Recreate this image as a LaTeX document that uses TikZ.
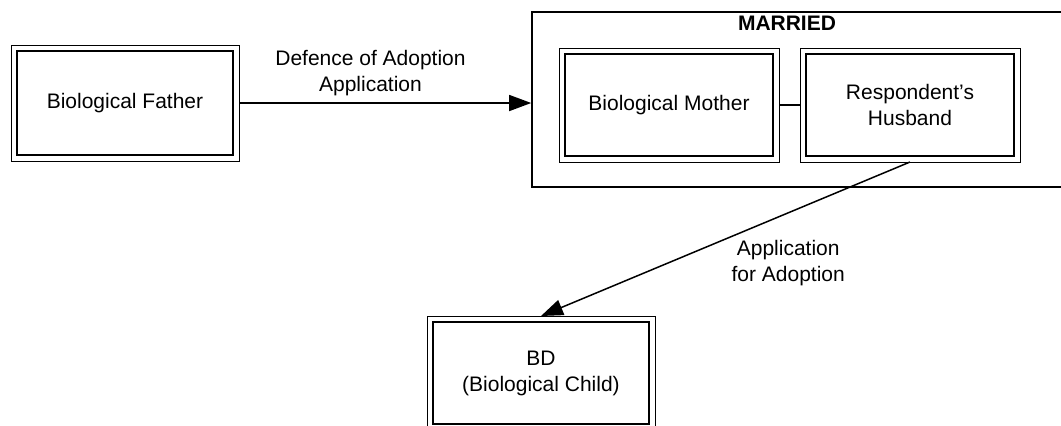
\documentclass[tikz,border=0pt]{standalone}
\usepackage{fontspec}
\setmainfont{Liberation Sans}
\usetikzlibrary{arrows.meta}

\begin{document}
\begin{tikzpicture}[
  x=0.5pt, y=-0.5pt,
  person/.style={rectangle, draw, line width=1pt, minimum width=108pt, align=center, outer sep=3pt},
  frame/.style={line width=0.5pt},
  link/.style={-{Triangle[length=11pt,width=8pt]}, line width=0.75pt},
  font=\fontsize{10.5}{13}\selectfont
]
\useasboundingbox (0,0) rectangle (1061,425);

% couple
\node[rectangle, draw, line width=0.8pt, minimum width=266pt, minimum height=87.5pt] (married) at (798,99.5) {};
\node[font=\fontsize{10.5}{13}\selectfont\bfseries] (married_label) at (787,23) {MARRIED};

\node[person, minimum height=52pt] (father) at (125,103) {Biological Father};
\node[person, minimum width=104pt, minimum height=51pt] (mother) at (669,105) {Biological Mother};
\node[person, minimum width=104pt, minimum height=51pt] (husband) at (910,105) {Respondent's\\Husband};
\node[person, minimum height=51pt] (child) at (541,373) {BD\\(Biological Child)};

% outer line of the double frames
\foreach \n in {father,mother,husband,child}
  \draw[frame] (\n.north west) rectangle (\n.south east);

\draw[link] (father.east) -- node[pos=0.45, above, align=center] {Defence of Adoption\\Application} (father.east -| married.west);
\draw[line width=0.9pt] (mother) -- (husband);
\draw[link] (husband.south) -- node[pos=0.33, below=10pt, align=center] {Application\\for Adoption} (child.north);
\end{tikzpicture}
\end{document}
